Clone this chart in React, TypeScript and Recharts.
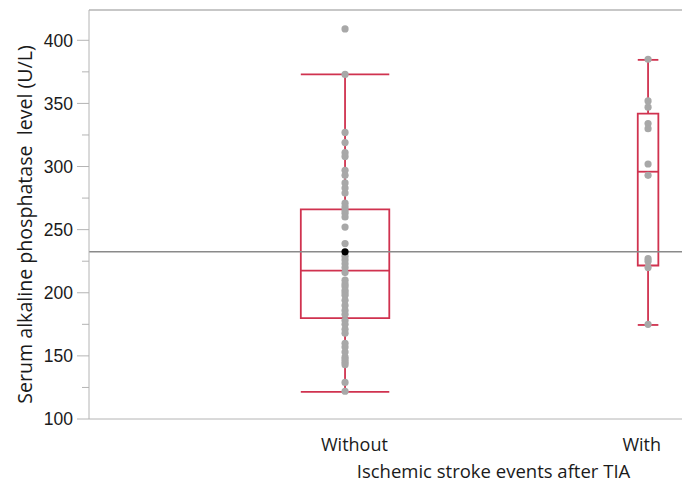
import React from 'react';
import { ScatterChart, Scatter, XAxis, YAxis, ReferenceLine, ReferenceArea } from 'recharts';

// groups and where they sit on the (numeric) x axis
const groups = ['Without', 'With'];
const groupX = [1, 2];
const labelX = [1.031, 1.979];

// individual serum ALP values
const withoutValues = [
  409, 373, 327, 319, 311, 308, 297, 293, 287, 283, 279, 271, 268, 265, 263, 260,
  252, 239, 229, 226, 223, 220, 216, 210, 207, 205, 202, 200, 198, 194, 190, 186,
  183, 178, 175, 171, 168, 160, 157, 153, 149, 147, 145, 143, 129, 122,
];
const withValues = [385, 352, 347, 334, 330, 302, 293, 227, 225, 220, 175];

// box statistics per group
const q1 = [179.9, 221.6];
const median = [217.6, 295.9];
const q3 = [266, 341.9];
const whiskerLow = [121.5, 174.5];
const whiskerHigh = [373, 384.5];
const boxHalf = [0.146, 0.034];

const overallMean = 232.4;
const yTicks = [100, 125, 150, 175, 200, 225, 250, 275, 300, 325, 350, 375, 400];

const BOX = '#d0324f';
const DOT = '#a8a8a8';
const AXIS = '#b4b4b4';
const TEXT = '#1a1a1a';

const withoutPoints = withoutValues.map((v) => ({ x: groupX[0], y: v }));
const withPoints = withValues.map((v) => ({ x: groupX[1], y: v }));
const meanPoint = [{ x: groupX[0], y: overallMean }];

const Dot = (props: any) => <circle cx={props.cx} cy={props.cy} r={3.6} fill={props.fill} />;

const YTick = (props: any) => {
  const { x, y, payload } = props;
  const major = payload.value % 50 === 0;
  return (
    <g>
      <line x1={x - (major ? 12 : 7)} x2={x} y1={y} y2={y} stroke={AXIS} strokeWidth={1} />
      {major && (
        <text x={x - 16} y={y} dy="0.36em" textAnchor="end" fontSize={17.5}
          fontFamily="'Liberation Sans', Arial, sans-serif" fill={TEXT}>
          {payload.value}
        </text>
      )}
    </g>
  );
};

const XTick = (props: any) => {
  const { x, y, index } = props;
  return (
    <text x={x} y={y + 30} textAnchor="middle" fontSize={18}
      fontFamily="'Open Sans', sans-serif" fill={TEXT}>
      {groups[index]}
    </text>
  );
};

const YTitle = (props: any) => {
  const vb = props.viewBox || { y: 10, height: 409 };
  const cx = 24;
  const cy = vb.y + vb.height / 2 + 10;
  return (
    <text x={cx} y={cy} transform={`rotate(-90 ${cx} ${cy})`} textAnchor="middle"
      dominantBaseline="central" fontSize={19.6} fontFamily="'Open Sans', sans-serif"
      fill={TEXT} style={{ whiteSpace: 'pre' }}>
      {'Serum alkaline phosphatase  level (U/L)'}
    </text>
  );
};

export default function App() {
  return (
    <div style={{ position: 'absolute', left: 0, top: 0, background: '#fff' }}>
      <ScatterChart width={682} height={486} margin={{ top: 10, right: 0, bottom: 0, left: 0 }}>
        <XAxis
          type="number"
          dataKey="x"
          domain={[0.155, 2.112]}
          ticks={labelX}
          tick={<XTick />}
          tickLine={false}
          tickSize={0}
          height={67}
          stroke={AXIS}
          allowDataOverflow
          label={{
            value: 'Ischemic stroke events after TIA',
            position: 'insideBottom',
            offset: 8,
            dx: 108,
            fontSize: 18.5,
            fontFamily: "'Open Sans', sans-serif",
            fill: TEXT,
          }}
        />
        <YAxis
          type="number"
          dataKey="y"
          domain={[100, 424]}
          ticks={yTicks}
          interval={0}
          tick={<YTick />}
          tickLine={false}
          tickSize={0}
          tickMargin={0}
          width={89}
          stroke={AXIS}
          allowDataOverflow
          label={<YTitle />}
        />
        <ReferenceLine y={424} stroke={AXIS} strokeWidth={1.5} />
        <ReferenceLine y={overallMean} stroke="#8a8a8a" strokeWidth={1.5} />

        <Scatter data={withoutPoints} fill={DOT} shape={<Dot />} isAnimationActive={false} />
        <Scatter data={withPoints} fill={DOT} shape={<Dot />} isAnimationActive={false} />

        {groupX.map((gx, i) => (
          <ReferenceArea key={`box-${i}`} x1={gx - boxHalf[i]} x2={gx + boxHalf[i]} y1={q1[i]} y2={q3[i]}
            fill="none" fillOpacity={0} stroke={BOX} strokeWidth={1.8} strokeOpacity={1} />
        ))}
        {groupX.map((gx, i) => (
          <ReferenceLine key={`med-${i}`} segment={[{ x: gx - boxHalf[i], y: median[i] }, { x: gx + boxHalf[i], y: median[i] }]}
            stroke={BOX} strokeWidth={1.8} />
        ))}
        {groupX.map((gx, i) => (
          <ReferenceLine key={`wh-${i}`} segment={[{ x: gx, y: q3[i] }, { x: gx, y: whiskerHigh[i] }]} stroke={BOX} strokeWidth={1.8} />
        ))}
        {groupX.map((gx, i) => (
          <ReferenceLine key={`wl-${i}`} segment={[{ x: gx, y: whiskerLow[i] }, { x: gx, y: q1[i] }]} stroke={BOX} strokeWidth={1.8} />
        ))}
        {groupX.map((gx, i) => (
          <ReferenceLine key={`ch-${i}`} segment={[{ x: gx - boxHalf[i], y: whiskerHigh[i] }, { x: gx + boxHalf[i], y: whiskerHigh[i] }]}
            stroke={BOX} strokeWidth={1.8} />
        ))}
        {groupX.map((gx, i) => (
          <ReferenceLine key={`cl-${i}`} segment={[{ x: gx - boxHalf[i], y: whiskerLow[i] }, { x: gx + boxHalf[i], y: whiskerLow[i] }]}
            stroke={BOX} strokeWidth={1.8} />
        ))}

        <Scatter data={meanPoint} fill="#000" shape={<Dot />} isAnimationActive={false} />
      </ScatterChart>
    </div>
  );
}
